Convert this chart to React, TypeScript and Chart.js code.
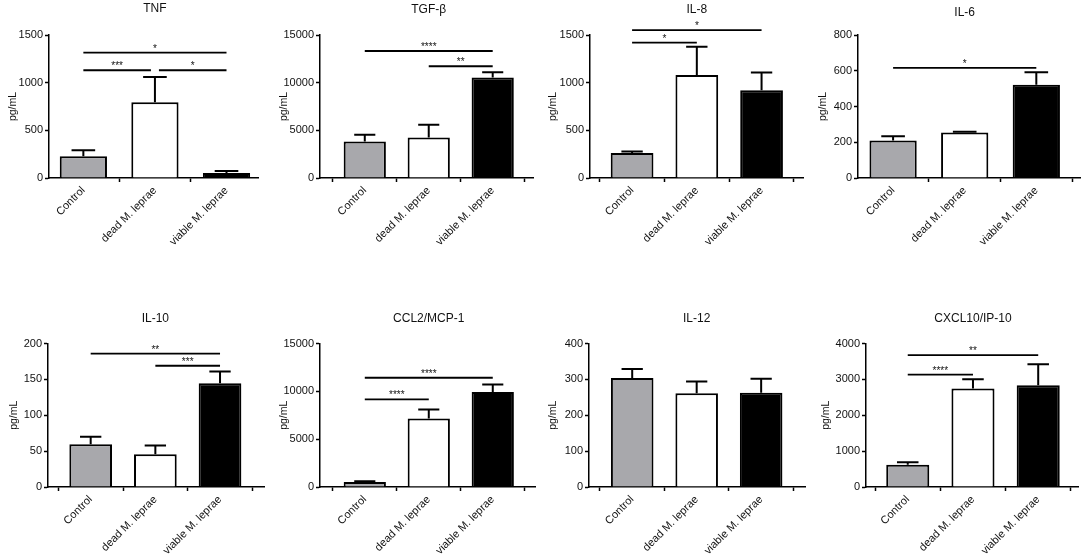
import React, { useEffect, useRef } from 'react';
import { Chart, registerables, ChartConfiguration, Plugin } from 'chart.js';

Chart.register(...registerables);
Chart.defaults.font.family = '"Liberation Sans", Arial, sans-serif';
Chart.defaults.color = '#111';

const groups = ['Control', 'dead M. leprae', 'viable M. leprae'];
const barColors = ['#a8a8ac', '#ffffff', '#000000'];

// mean and SEM, pg/mL
const tnfMean = [227, 795, 52];
const tnfSem = [63, 265, 21];
const tgfMean = [3840, 4255, 10530];
const tgfSem = [695, 1325, 560];
const il8Mean = [262, 1081, 921];
const il8Sem = [17, 297, 185];
const il6Mean = [210, 255, 521];
const il6Sem = [23, 4, 71];
const il10Mean = [59.5, 45.5, 144.5];
const il10Sem = [10.5, 12.5, 16.5];
const ccl2Mean = [520, 7170, 9920];
const ccl2Sem = [70, 940, 800];
const il12Mean = [304, 261, 263];
const il12Sem = [25, 33, 39];
const cxcl10Mean = [623, 2744, 2837];
const cxcl10Sem = [65, 261, 586];

type Sig = { from: number; to: number; y: number; label: string };

// significance brackets (y in pg/mL)
const tnfSig: Sig[] = [
  { from: 0, to: 2, y: 1315, label: '*' },
  { from: 0, to: 1, y: 1130, label: '***' },
  { from: 1, to: 2, y: 1130, label: '*' },
];
const tgfSig: Sig[] = [
  { from: 0, to: 2, y: 13320, label: '****' },
  { from: 1, to: 2, y: 11720, label: '**' },
];
const il8Sig: Sig[] = [
  { from: 0, to: 2, y: 1552, label: '*' },
  { from: 0, to: 1, y: 1420, label: '*' },
];
const il6Sig: Sig[] = [{ from: 0, to: 2, y: 616, label: '*' }];
const il10Sig: Sig[] = [
  { from: 0, to: 2, y: 186, label: '**' },
  { from: 1, to: 2, y: 169, label: '***' },
];
const ccl2Sig: Sig[] = [
  { from: 0, to: 2, y: 11420, label: '****' },
  { from: 0, to: 1, y: 9150, label: '****' },
];
const il12Sig: Sig[] = [];
const cxcl10Sig: Sig[] = [
  { from: 0, to: 2, y: 3675, label: '**' },
  { from: 0, to: 1, y: 3135, label: '****' },
];

const CW = 271;
const CH = 279;

interface PanelSpec {
  title: string;
  mean: number[];
  sem: number[];
  sig: Sig[];
  yMax: number;
  yStep: number;
  col: number;
  row: number;
  plot: [number, number, number, number]; // left, right, top, bottom (page px)
  xRange: [number, number];
  titleY: number;
  yTitleX: number;
}

const panels: PanelSpec[] = [
  { title: 'TNF', mean: tnfMean, sem: tnfSem, sig: tnfSig, yMax: 1500, yStep: 500, col: 0, row: 0,
    plot: [49, 258, 35, 178], xRange: [-0.48, 2.44], titleY: 9, yTitleX: 13 },
  { title: 'TGF-β', mean: tgfMean, sem: tgfSem, sig: tgfSig, yMax: 15000, yStep: 5000, col: 1, row: 0,
    plot: [320, 533, 35, 178], xRange: [-0.7, 2.63], titleY: 10, yTitleX: 284 },
  { title: 'IL-8', mean: il8Mean, sem: il8Sem, sig: il8Sig, yMax: 1500, yStep: 500, col: 2, row: 0,
    plot: [590, 803, 35, 178], xRange: [-0.65, 2.64], titleY: 10, yTitleX: 553 },
  { title: 'IL-6', mean: il6Mean, sem: il6Sem, sig: il6Sig, yMax: 800, yStep: 200, col: 3, row: 0,
    plot: [858, 1080, 35, 178], xRange: [-0.49, 2.61], titleY: 13, yTitleX: 823 },
  { title: 'IL-10', mean: il10Mean, sem: il10Sem, sig: il10Sig, yMax: 200, yStep: 50, col: 0, row: 1,
    plot: [48, 264, 343.5, 487], xRange: [-0.66, 2.68], titleY: 319, yTitleX: 14 },
  { title: 'CCL2/MCP-1', mean: ccl2Mean, sem: ccl2Sem, sig: ccl2Sig, yMax: 15000, yStep: 5000, col: 1, row: 1,
    plot: [320, 535, 343.5, 487], xRange: [-0.7, 2.66], titleY: 319, yTitleX: 284 },
  { title: 'IL-12', mean: il12Mean, sem: il12Sem, sig: il12Sig, yMax: 400, yStep: 100, col: 2, row: 1,
    plot: [589, 805, 343.5, 487], xRange: [-0.67, 2.68], titleY: 319, yTitleX: 553 },
  { title: 'CXCL10/IP-10', mean: cxcl10Mean, sem: cxcl10Sem, sig: cxcl10Sig, yMax: 4000, yStep: 1000, col: 3, row: 1,
    plot: [866, 1078, 343.5, 487], xRange: [-0.64, 2.61], titleY: 319, yTitleX: 826 },
];

const makePlugin = (spec: PanelSpec, top: number): Plugin<'bar'> => ({
  id: 'panelExtras',
  afterDatasetsDraw(chart) {
    const { ctx } = chart;
    const xs = chart.scales.x;
    const ys = chart.scales.y;
    const meta = chart.getDatasetMeta(0);
    ctx.save();
    ctx.strokeStyle = '#000';
    ctx.fillStyle = '#111';
    ctx.lineWidth = 2;

    // error bars (upper only)
    meta.data.forEach((bar: any, i: number) => {
      const yTop = ys.getPixelForValue(spec.mean[i] + spec.sem[i]);
      const half = bar.width * 0.25;
      ctx.beginPath();
      ctx.moveTo(bar.x, bar.y);
      ctx.lineTo(bar.x, yTop);
      ctx.moveTo(bar.x - half, yTop);
      ctx.lineTo(bar.x + half, yTop);
      ctx.stroke();
    });

    // significance brackets
    ctx.lineWidth = 1.8;
    ctx.font = '10px "Liberation Sans", Arial, sans-serif';
    ctx.textAlign = 'center';
    ctx.textBaseline = 'alphabetic';
    spec.sig.forEach((s) => {
      const shared = (idx: number) =>
        spec.sig.some((o) => o !== s && o.y === s.y && (o.from === idx || o.to === idx));
      let x1 = xs.getPixelForValue(s.from);
      let x2 = xs.getPixelForValue(s.to);
      if (shared(s.from)) x1 += 4;
      if (shared(s.to)) x2 -= 4;
      const py = ys.getPixelForValue(s.y);
      ctx.beginPath();
      ctx.moveTo(x1, py);
      ctx.lineTo(x2, py);
      ctx.stroke();
      ctx.fillText(s.label, (x1 + x2) / 2, py - 1);
    });

    // panel title
    ctx.font = '12px "Liberation Sans", Arial, sans-serif';
    ctx.textBaseline = 'middle';
    ctx.fillText(spec.title, xs.getPixelForValue(1), spec.titleY - top);
    ctx.restore();
  },
});

const Panel: React.FC<{ spec: PanelSpec }> = ({ spec }) => {
  const canvasRef = useRef<HTMLCanvasElement>(null);
  const left = spec.col * CW;
  const top = spec.row * 278;

  useEffect(() => {
    if (!canvasRef.current) return;
    const [pl, pr, pt, pb] = spec.plot;
    const yWidth = pl - left;
    const xHeight = top + CH - pb;

    const config: ChartConfiguration<'bar'> = {
      type: 'bar',
      data: {
        datasets: [
          {
            data: spec.mean.map((v, i) => ({ x: i, y: v })) as any,
            backgroundColor: barColors,
            borderColor: '#000',
            borderWidth: 2,
            barPercentage: 0.66,
            categoryPercentage: 1,
          },
        ],
      },
      options: {
        responsive: false,
        maintainAspectRatio: false,
        animation: false,
        layout: { padding: { left: 0, right: left + CW - pr, top: pt - top, bottom: 0 } },
        plugins: { legend: { display: false }, tooltip: { enabled: false } },
        scales: {
          x: {
            type: 'linear',
            min: spec.xRange[0],
            max: spec.xRange[1],
            offset: false,
            afterBuildTicks: (axis: any) => {
              axis.ticks = groups.map((_, i) => ({ value: i }));
            },
            afterFit: (scale: any) => {
              scale.height = xHeight;
            },
            grid: { drawOnChartArea: false, drawTicks: true, tickLength: 4, tickWidth: 1.5, tickColor: '#000' },
            border: { display: true, color: '#000', width: 1.5 },
            ticks: {
              autoSkip: false,
              minRotation: 45,
              maxRotation: 45,
              padding: 2,
              font: { size: 11 },
              callback: (v: any) => groups[Number(v)] ?? '',
            },
          },
          y: {
            type: 'linear',
            min: 0,
            max: spec.yMax,
            afterFit: (scale: any) => {
              scale.width = yWidth;
            },
            grid: { drawOnChartArea: false, drawTicks: true, tickLength: 4, tickWidth: 1.5, tickColor: '#000' },
            border: { display: true, color: '#000', width: 1.5 },
            ticks: {
              stepSize: spec.yStep,
              padding: 2,
              font: { size: 11 },
              callback: (v: any) => String(v),
            },
            title: {
              display: true,
              text: 'pg/mL',
              font: { size: 10.5 },
              padding: { top: spec.yTitleX - left - 6.3, bottom: 0 },
            },
          },
        },
      },
      plugins: [makePlugin(spec, top)],
    };

    const chart = new Chart(canvasRef.current, config);
    return () => chart.destroy();
  }, [spec]);

  return (
    <canvas
      ref={canvasRef}
      width={CW}
      height={CH}
      style={{ position: 'absolute', left, top, width: CW, height: CH }}
    />
  );
};

const App: React.FC = () => (
  <div
    style={{
      position: 'fixed',
      left: 0,
      top: 0,
      width: 1084,
      height: 557,
      background: '#fff',
      overflow: 'hidden',
    }}
  >
    {panels.map((p) => (
      <Panel key={p.title} spec={p} />
    ))}
  </div>
);

export default App;
